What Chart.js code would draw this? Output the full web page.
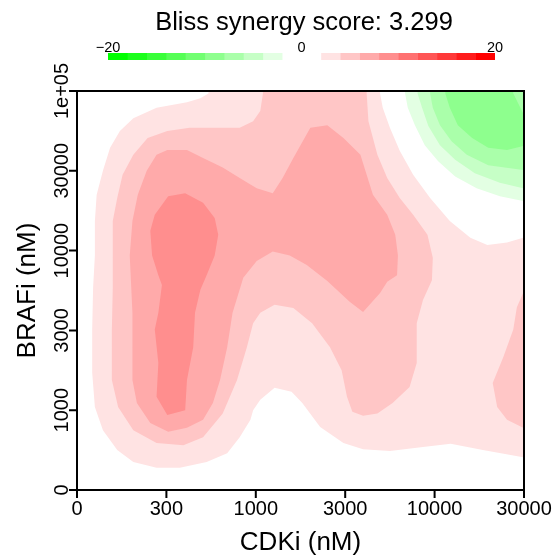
<!DOCTYPE html>
<html>
<head>
<meta charset="utf-8">
<script src="https://cdn.jsdelivr.net/npm/chart.js@4.4.1/dist/chart.umd.min.js"></script>
<style>
  html, body { margin: 0; padding: 0; background: #fff; }
  #wrap { position: relative; width: 556px; height: 555px; }
  #wrap canvas { position: absolute; left: 0; top: 0; }
</style>
</head>
<body>
<div id="wrap">
  <canvas id="surface" width="556" height="555"></canvas>
  <canvas id="scoreBar" width="556" height="70"></canvas>
</div>
<script>
// dose labels for the two drugs (plotted at index positions 0..5)
const cdkiDoses = ['0', '300', '1000', '3000', '10000', '30000'];
const brafiDoses = ['0', '1000', '3000', '10000', '30000', '1e+05'];
const blissScore = 3.299;

// colour key breaks, -20..20 in steps of 2
const scoreBreaks = [-20, -18, -16, -14, -12, -10, -8, -6, -4, -2, 0, 2, 4, 6, 8, 10, 12, 14, 16, 18, 20];
const bandColors = ['#00FF00', '#1CFF1C', '#39FF39', '#55FF55', '#71FF71', '#8EFF8E', '#AAFFAA', '#C6FFC6', '#E3FFE3', '#FFFFFF',
                    '#FFFFFF', '#FFE3E3', '#FFC6C6', '#FFAAAA', '#FF8E8E', '#FF7171', '#FF5555', '#FF3939', '#FF1C1C', '#FF0000'];

// contour outlines [cdki index, brafi index]; points past 0..5 are cut off by the plot area
const plus2 = [[1.49,5.2],[3.39,5.2],[3.39,4.97],[3.42,4.79],[3.50,4.54],[3.61,4.25],[3.76,3.95],[3.95,3.66],[4.17,3.37],[4.40,3.16],
  [4.59,3.07],[4.81,3.10],[4.99,3.16],[5.2,3.2],[5.2,0.40],[4.99,0.41],[4.54,0.50],[4.18,0.58],[3.87,0.54],[3.50,0.49],[3.20,0.51],
  [2.98,0.59],[2.72,0.79],[2.52,1.09],[2.40,1.23],[2.21,1.28],[2.05,1.13],[1.97,1.00],[1.94,0.88],[1.82,0.66],[1.68,0.46],[1.45,0.35],
  [1.15,0.28],[0.89,0.28],[0.63,0.35],[0.45,0.50],[0.29,0.75],[0.20,1.04],[0.17,1.47],[0.17,2.01],[0.18,2.53],[0.20,2.94],[0.20,3.37],
  [0.22,3.70],[0.29,4.00],[0.37,4.29],[0.48,4.50],[0.63,4.66],[0.89,4.79],[1.23,4.86],[1.38,4.91],[1.47,4.97],[1.49,5.2]];
const plus4 = [[2.08,5.2],[3.24,5.2],[3.24,4.97],[3.26,4.62],[3.36,4.20],[3.47,3.91],[3.61,3.66],[3.76,3.45],[3.92,3.20],[3.98,2.91],
  [3.97,2.63],[3.87,2.38],[3.80,2.09],[3.80,1.59],[3.72,1.29],[3.53,1.09],[3.36,0.96],[3.20,0.93],[3.08,0.98],[3.02,1.17],[2.96,1.50],
  [2.83,1.79],[2.63,2.09],[2.42,2.28],[2.21,2.32],[2.05,2.22],[1.97,2.09],[1.90,1.79],[1.79,1.38],[1.63,0.96],[1.41,0.66],[1.19,0.56],
  [0.89,0.59],[0.63,0.75],[0.46,1.04],[0.39,1.38],[0.39,2.01],[0.40,2.53],[0.40,2.94],[0.40,3.37],[0.45,3.66],[0.51,3.95],[0.63,4.20],
  [0.79,4.41],[1.01,4.50],[1.26,4.54],[1.63,4.54],[1.82,4.54],[1.97,4.62],[2.05,4.75],[2.08,4.97],[2.08,5.2]];
const plus4Edge = [[5.2,2.47],[4.99,2.47],[4.92,2.29],[4.88,2.01],[4.77,1.67],[4.65,1.34],[4.70,1.04],[4.81,0.88],[4.99,0.78],[5.2,0.78],[5.2,2.47]];
const plus6 = [[1.01,4.26],[1.23,4.26],[1.41,4.16],[1.63,4.04],[1.82,3.91],[2.01,3.78],[2.19,3.72],[2.30,3.91],[2.42,4.16],[2.61,4.54],
  [2.80,4.57],[2.98,4.41],[3.17,4.20],[3.24,3.95],[3.31,3.70],[3.47,3.45],[3.56,3.20],[3.59,2.94],[3.58,2.69],[3.47,2.61],[3.39,2.47],
  [3.20,2.23],[3.05,2.36],[2.80,2.62],[2.57,2.82],[2.38,2.94],[2.19,2.99],[2.01,2.87],[1.86,2.66],[1.74,2.22],[1.68,1.79],[1.60,1.38],
  [1.52,1.09],[1.41,0.88],[1.23,0.78],[1.02,0.73],[0.82,0.84],[0.67,1.09],[0.62,1.38],[0.62,2.22],[0.59,2.94],[0.62,3.37],[0.68,3.70],
  [0.78,4.00],[0.89,4.20],[1.01,4.26]];
const plus8 = [[1.02,3.68],[1.21,3.72],[1.41,3.60],[1.54,3.41],[1.58,3.20],[1.54,2.94],[1.45,2.69],[1.38,2.51],[1.32,2.22],[1.30,1.79],
  [1.23,1.38],[1.21,1.00],[1.01,0.94],[0.89,1.17],[0.91,1.59],[0.87,2.01],[0.91,2.22],[0.95,2.57],[0.91,2.69],[0.84,2.94],[0.82,3.25],
  [0.87,3.45],[1.02,3.68]];
const minus2 = [[3.67,5.2],[3.67,4.97],[3.70,4.79],[3.78,4.57],[3.89,4.32],[4.04,4.12],[4.23,3.93],[4.47,3.78],[4.73,3.68],[4.99,3.62],[5.2,3.62],[5.2,5.2],[3.67,5.2]];
const minus4 = [[3.81,5.2],[3.81,4.97],[3.86,4.79],[3.93,4.56],[4.06,4.32],[4.23,4.14],[4.45,3.97],[4.73,3.85],[4.99,3.78],[5.2,3.78],[5.2,5.2],[3.81,5.2]];
const minus6 = [[3.95,5.2],[3.95,4.97],[3.98,4.79],[4.06,4.57],[4.19,4.37],[4.36,4.20],[4.60,4.07],[4.99,4.01],[5.2,4.01],[5.2,5.2],[3.95,5.2]];
const minus8 = [[4.12,5.2],[4.12,4.97],[4.17,4.79],[4.26,4.57],[4.42,4.41],[4.60,4.29],[4.81,4.26],[4.99,4.31],[5.2,4.31],[5.2,4.72],
  [4.99,4.72],[4.88,4.97],[4.88,5.2],[4.12,5.2]];

const contours = [
  { level: 2, ring: plus2 }, { level: 4, ring: plus4 }, { level: 4, ring: plus4Edge },
  { level: 6, ring: plus6 }, { level: 8, ring: plus8 },
  { level: -2, ring: minus2 }, { level: -4, ring: minus4 }, { level: -6, ring: minus6 }, { level: -8, ring: minus8 }
];

const fontFamily = '"Liberation Sans", Arial, Helvetica, sans-serif';

function levelColor(level) {
  const i = scoreBreaks.indexOf(level);
  return level > 0 ? bandColors[i] : bandColors[i - 1];
}

// R style axes, box and labels
const axesPlugin = {
  id: 'axesPlugin',
  afterDraw(chart) {
    const { ctx, chartArea: a, scales: { x, y } } = chart;
    ctx.save();
    ctx.strokeStyle = '#000';
    ctx.lineWidth = 2;
    ctx.strokeRect(a.left, a.top, a.right - a.left, a.bottom - a.top);
    ctx.beginPath();
    cdkiDoses.forEach((d, i) => {
      const px = x.getPixelForValue(i);
      ctx.moveTo(px, a.bottom);
      ctx.lineTo(px, a.bottom + 8);
    });
    brafiDoses.forEach((d, i) => {
      const py = y.getPixelForValue(i);
      ctx.moveTo(a.left, py);
      ctx.lineTo(a.left - 8, py);
    });
    ctx.stroke();

    ctx.fillStyle = '#000';
    ctx.font = '20px ' + fontFamily;
    ctx.textAlign = 'center';
    ctx.textBaseline = 'alphabetic';
    cdkiDoses.forEach((d, i) => ctx.fillText(d, x.getPixelForValue(i), a.bottom + 25));
    brafiDoses.forEach((d, i) => {
      ctx.save();
      ctx.translate(a.left - 9, y.getPixelForValue(i));
      ctx.rotate(-Math.PI / 2);
      ctx.fillText(d, 0, 0);
      ctx.restore();
    });

    ctx.font = '26px ' + fontFamily;
    ctx.fillText('CDKi (nM)', (a.left + a.right) / 2, 550);
    ctx.save();
    ctx.translate(35, (a.top + a.bottom) / 2);
    ctx.rotate(-Math.PI / 2);
    ctx.fillText('BRAFi (nM)', 0, 0);
    ctx.restore();
    ctx.restore();
  }
};

new Chart(document.getElementById('surface'), {
  type: 'scatter',
  data: {
    datasets: contours.map((c, i) => ({
      data: c.ring.map(p => ({ x: p[0], y: p[1] })),
      showLine: true,
      fill: 'shape',
      backgroundColor: levelColor(c.level),
      borderWidth: 0,
      pointRadius: 0,
      tension: 0,
      order: 20 - Math.abs(c.level)
    }))
  },
  options: {
    responsive: false,
    animation: false,
    events: [],
    layout: { padding: { left: 77, right: 32, top: 91, bottom: 65 } },
    scales: {
      x: { type: 'linear', min: 0, max: 5, display: false },
      y: { type: 'linear', min: 0, max: 5, display: false }
    },
    plugins: { legend: { display: false }, tooltip: { enabled: false } }
  },
  plugins: [axesPlugin]
});

// colour key with title above the surface
const keyPlugin = {
  id: 'keyPlugin',
  afterDraw(chart) {
    const { ctx, scales: { x } } = chart;
    ctx.save();
    ctx.fillStyle = '#000';
    ctx.textAlign = 'center';
    ctx.textBaseline = 'alphabetic';
    ctx.font = '25.5px ' + fontFamily;
    ctx.fillText('Bliss synergy score: ' + blissScore.toFixed(3), 304, 30);
    ctx.font = '14.5px ' + fontFamily;
    [-20, 0, 20].forEach(v => ctx.fillText(v < 0 ? '\u2212' + Math.abs(v) : String(v), x.getPixelForValue(v), 52));
    ctx.restore();
  }
};

new Chart(document.getElementById('scoreBar'), {
  type: 'bar',
  data: {
    labels: ['score'],
    datasets: bandColors.map((col, i) => ({
      data: [[scoreBreaks[i], scoreBreaks[i + 1]]],
      backgroundColor: col,
      borderWidth: 0,
      grouped: false,
      barPercentage: 1,
      categoryPercentage: 1
    }))
  },
  options: {
    indexAxis: 'y',
    responsive: false,
    animation: false,
    events: [],
    layout: { padding: { left: 108, right: 61, top: 53, bottom: 10 } },
    scales: {
      x: { type: 'linear', min: -20, max: 20, display: false },
      y: { display: false }
    },
    plugins: { legend: { display: false }, tooltip: { enabled: false } }
  },
  plugins: [keyPlugin]
});
</script>
</body>
</html>
